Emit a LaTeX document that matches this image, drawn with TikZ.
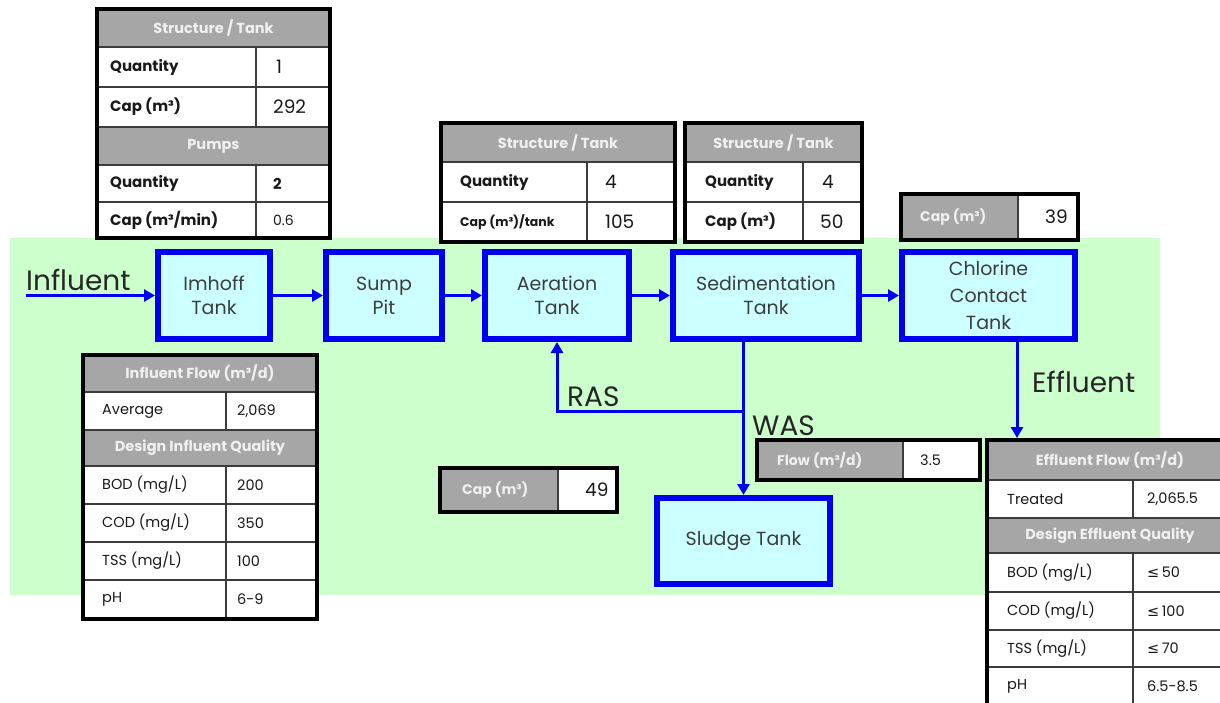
\documentclass[tikz,border=0pt]{standalone}
\usepackage{fontspec}
\setmainfont{Poppins}
\newfontfamily\symfont{DejaVu Sans}
\usetikzlibrary{arrows.meta}
\definecolor{bggreen}{RGB}{204,255,204}
\definecolor{tankblue}{RGB}{0,0,240}
\definecolor{tankfill}{RGB}{204,255,255}
\definecolor{tanktext}{RGB}{60,60,60}
\definecolor{hdrgrey}{RGB}{166,166,166}
\definecolor{gridgrey}{RGB}{60,60,60}
\tikzset{
 tank/.style={draw=tankblue, line width=6pt, fill=tankfill, text=tanktext,
   font=\fontsize{19}{24}\selectfont, align=center, inner sep=0pt},
 flow/.style={draw=tankblue, line width=3pt, -{Triangle[length=11pt,width=12pt]}},
 biglabel/.style={font=\fontsize{28}{30}\selectfont, text=black!85, inner sep=0pt, anchor=base west},
 hdr/.style={fill=hdrgrey},
 grid/.style={draw=gridgrey, line width=1.5pt},
 frame/.style={draw=black, line width=4.5pt},
 hdrtext/.style={font=\fontsize{14.5}{16}\selectfont\bfseries, text=white!94!black, inner sep=0pt},
 hdrcell/.style={font=\fontsize{14}{16}\selectfont\bfseries, text=white!94!black, inner sep=0pt, anchor=west},
 lab/.style={font=\fontsize{15}{17}\selectfont\bfseries, anchor=west, inner sep=0pt, text=black!90},
 labs/.style={font=\fontsize{12.5}{14}\selectfont\bfseries, anchor=west, inner sep=0pt, text=black!90},
 labr/.style={font=\fontsize{14.5}{16}\selectfont, anchor=west, inner sep=0pt, text=black!90},
 val/.style={font=\fontsize{18.5}{20}\selectfont, anchor=west, inner sep=0pt, text=black!90},
 vals/.style={font=\fontsize{14}{16}\selectfont, anchor=west, inner sep=0pt, text=black!90},
 valb/.style={font=\fontsize{15}{17}\selectfont\bfseries, anchor=west, inner sep=0pt, text=black!90},
}
\begin{document}
\begin{tikzpicture}[x=1pt,y=-1pt]
\useasboundingbox (0,0) rectangle (1220,702);
\fill[white] (0,0) rectangle (1220,702);
% background
\fill[bggreen] (10,238) rectangle (1160,595);

% ---------- T1 Imhoff table ----------
\fill[white] (97,9) rectangle (330,238);
\fill[hdr] (97,9) rectangle (330,47);
\fill[hdr] (97,127) rectangle (330,165);
\draw[grid] (97,47) -- (330,47) (97,87) -- (330,87) (97,127) -- (330,127)
  (97,165) -- (330,165) (97,202) -- (330,202)
  (256,47) -- (256,127) (256,165) -- (256,238);
\draw[frame] (97,9) rectangle (330,238);
\node[hdrtext] (t1h) at (213.5,28) {Structure / Tank};
\node[lab] (t1a) at (110,67) {Quantity};
\node[val] (t1b) at (276,67) {1};
\node[lab] (t1c) at (110,107) {Cap (m³)};
\node[val] (t1d) at (273,107) {292};
\node[hdrtext] (t1e) at (213.5,146) {Pumps};
\node[lab] (t1f) at (110,183.5) {Quantity};
\node[valb] (t1g) at (273,183.5) {2};
\node[lab] (t1i) at (110,220) {Cap (m³/min)};
\node[vals] (t1j) at (273,220) {0.6};

% ---------- T2 Aeration table ----------
\fill[white] (441,123) rectangle (675,242);
\fill[hdr] (441,123) rectangle (675,162);
\draw[grid] (441,162) -- (675,162) (441,202) -- (675,202) (587,162) -- (587,242);
\draw[frame] (441,123) rectangle (675,242);
\node[hdrtext] (t2h) at (558,142.5) {Structure / Tank};
\node[lab] (t2a) at (460,182) {Quantity};
\node[val] (t2b) at (605,182) {4};
\node[labs] (t2c) at (460,222) {Cap (m³)/tank};
\node[val] (t2d) at (605,222) {105};

% ---------- T3 Sedimentation table ----------
\fill[white] (685,123) rectangle (862,242);
\fill[hdr] (685,123) rectangle (862,162);
\draw[grid] (685,162) -- (862,162) (685,202) -- (862,202) (803,162) -- (803,242);
\draw[frame] (685,123) rectangle (862,242);
\node[hdrtext] (t3h) at (773.5,142.5) {Structure / Tank};
\node[lab] (t3a) at (705,182) {Quantity};
\node[val] (t3b) at (822,182) {4};
\node[lab] (t3c) at (705,222) {Cap (m³)};
\node[val] (t3d) at (820,222) {50};

% ---------- T4 Chlorine cap ----------
\fill[white] (901,194) rectangle (1078,240);
\fill[hdr] (901,194) rectangle (1018,240);
\draw[grid] (1018,194) -- (1018,240);
\draw[frame] (901,194) rectangle (1078,240);
\node[hdrcell] (t4a) at (920,217) {Cap (m³)};
\node[val] (t4b) at (1045,217) {39};

% ---------- Tanks ----------
\node[tank, minimum width=112pt, minimum height=87pt] (imh) at (214,295.5) {Imhoff\\Tank};
\node[tank, minimum width=116pt, minimum height=87pt] (sump) at (384,295.5) {Sump\\Pit};
\node[tank, minimum width=144pt, minimum height=87pt] (aer) at (557,295.5) {Aeration\\Tank};
\node[tank, minimum width=186pt, minimum height=87pt] (sed) at (766,295.5) {Sedimentation\\Tank};
\node[tank, minimum width=173pt, minimum height=87pt, font=\fontsize{19}{27}\selectfont] (chl) at (988.5,295.5) {Chlorine\\Contact\\Tank};
\node[tank, minimum width=173pt, minimum height=86pt] (sludge) at (743.5,541) {Sludge Tank};

% ---------- T5 Influent table ----------
\fill[white] (83,355) rectangle (317,619);
\fill[hdr] (83,355) rectangle (317,392);
\fill[hdr] (83,430) rectangle (317,466);
\draw[grid] (83,392) -- (317,392) (83,430) -- (317,430) (83,466) -- (317,466)
  (83,504) -- (317,504) (83,542) -- (317,542) (83,580) -- (317,580)
  (226,392) -- (226,430) (226,466) -- (226,619);
\draw[frame] (83,355) rectangle (317,619);
\node[hdrtext] (t5h) at (200,373.5) {Influent Flow (m³/d)};
\node[labr] (t5a) at (102,411) {Average};
\node[labr] (t5b) at (237,411) {2,069};
\node[hdrtext] (t5c) at (200,448) {Design Influent Quality};
\node[labr] (t5d) at (102,485) {BOD (mg/L)};
\node[labr] (t5e) at (237,485) {200};
\node[labr] (t5f) at (102,523) {COD (mg/L)};
\node[labr] (t5g) at (237,523) {350};
\node[labr] (t5i) at (102,561) {TSS (mg/L)};
\node[labr] (t5j) at (237,561) {100};
\node[labr] (t5k) at (102,599.5) {pH};
\node[labr] (t5l) at (237,599.5) {6-9};

% ---------- T7 WAS flow ----------
\fill[white] (757,440) rectangle (980,480);
\fill[hdr] (757,440) rectangle (903,480);
\draw[grid] (903,440) -- (903,480);
\draw[frame] (757,440) rectangle (980,480);
\node[hdrcell] (t7a) at (777,460) {Flow (m³/d)};
\node[labr] (t7b) at (920,460) {3.5};

% ---------- T8 Sludge cap ----------
\fill[white] (440,468) rectangle (617,512);
\fill[hdr] (440,468) rectangle (558,512);
\draw[grid] (558,468) -- (558,512);
\draw[frame] (440,468) rectangle (617,512);
\node[hdrcell] (t8a) at (462,490) {Cap (m³)};
\node[val] (t8b) at (585,490) {49};

% ---------- T6 Effluent table ----------
\fill[white] (987,440) rectangle (1234,708);
\fill[hdr] (987,440) rectangle (1234,480);
\fill[hdr] (987,518) rectangle (1234,553);
\draw[grid] (987,480) -- (1234,480) (987,518) -- (1234,518) (987,553) -- (1234,553)
  (987,592) -- (1234,592) (987,630) -- (1234,630) (987,667) -- (1234,667)
  (1133,480) -- (1133,518) (1133,553) -- (1133,708);
\draw[frame] (987,440) rectangle (1234,708);
\node[hdrtext] (t6h) at (1110,460) {Effluent Flow (m³/d)};
\node[labr] (t6a) at (1007,499) {Treated};
\node[labr] (t6b) at (1147,499) {2,065.5};
\node[hdrtext] (t6c) at (1110,535.5) {Design Effluent Quality};
\node[labr] (t6d) at (1007,572.5) {BOD (mg/L)};
\node[labr] (t6e) at (1147,572.5) {{\symfont ≤}\,50};
\node[labr] (t6f) at (1007,611) {COD (mg/L)};
\node[labr] (t6g) at (1147,611) {{\symfont ≤}\,100};
\node[labr] (t6i) at (1007,648.5) {TSS (mg/L)};
\node[labr] (t6j) at (1147,648.5) {{\symfont ≤}\,70};
\node[labr] (t6k) at (1007,686.5) {pH};
\node[labr] (t6l) at (1147,686.5) {6.5-8.5};

% ---------- connectors ----------
\coordinate (infstart) at (26,295.5);
\coordinate (wasj) at (743,411);
\coordinate (efftop) at (1017,339);
\coordinate (efftip) at (1017,438);
\draw[flow] (infstart) -- (imh.west);
\draw[flow] (imh) -- (sump);
\draw[flow] (sump) -- (aer);
\draw[flow] (aer) -- (sed);
\draw[flow] (sed) -- (chl);
\draw[flow] (sed.south -| sludge.north) -- (sludge.north);
\draw[flow] (wasj) -| (aer.south);
\draw[flow] (efftop) -- (efftip);

% ---------- labels ----------
\node[biglabel] (linf) at (26,290) {Influent};
\node[biglabel] (lras) at (567,406) {RAS};
\node[biglabel] (lwas) at (752,435) {WAS};
\node[biglabel] (leff) at (1032,392) {Effluent};
\end{tikzpicture}
\end{document}
